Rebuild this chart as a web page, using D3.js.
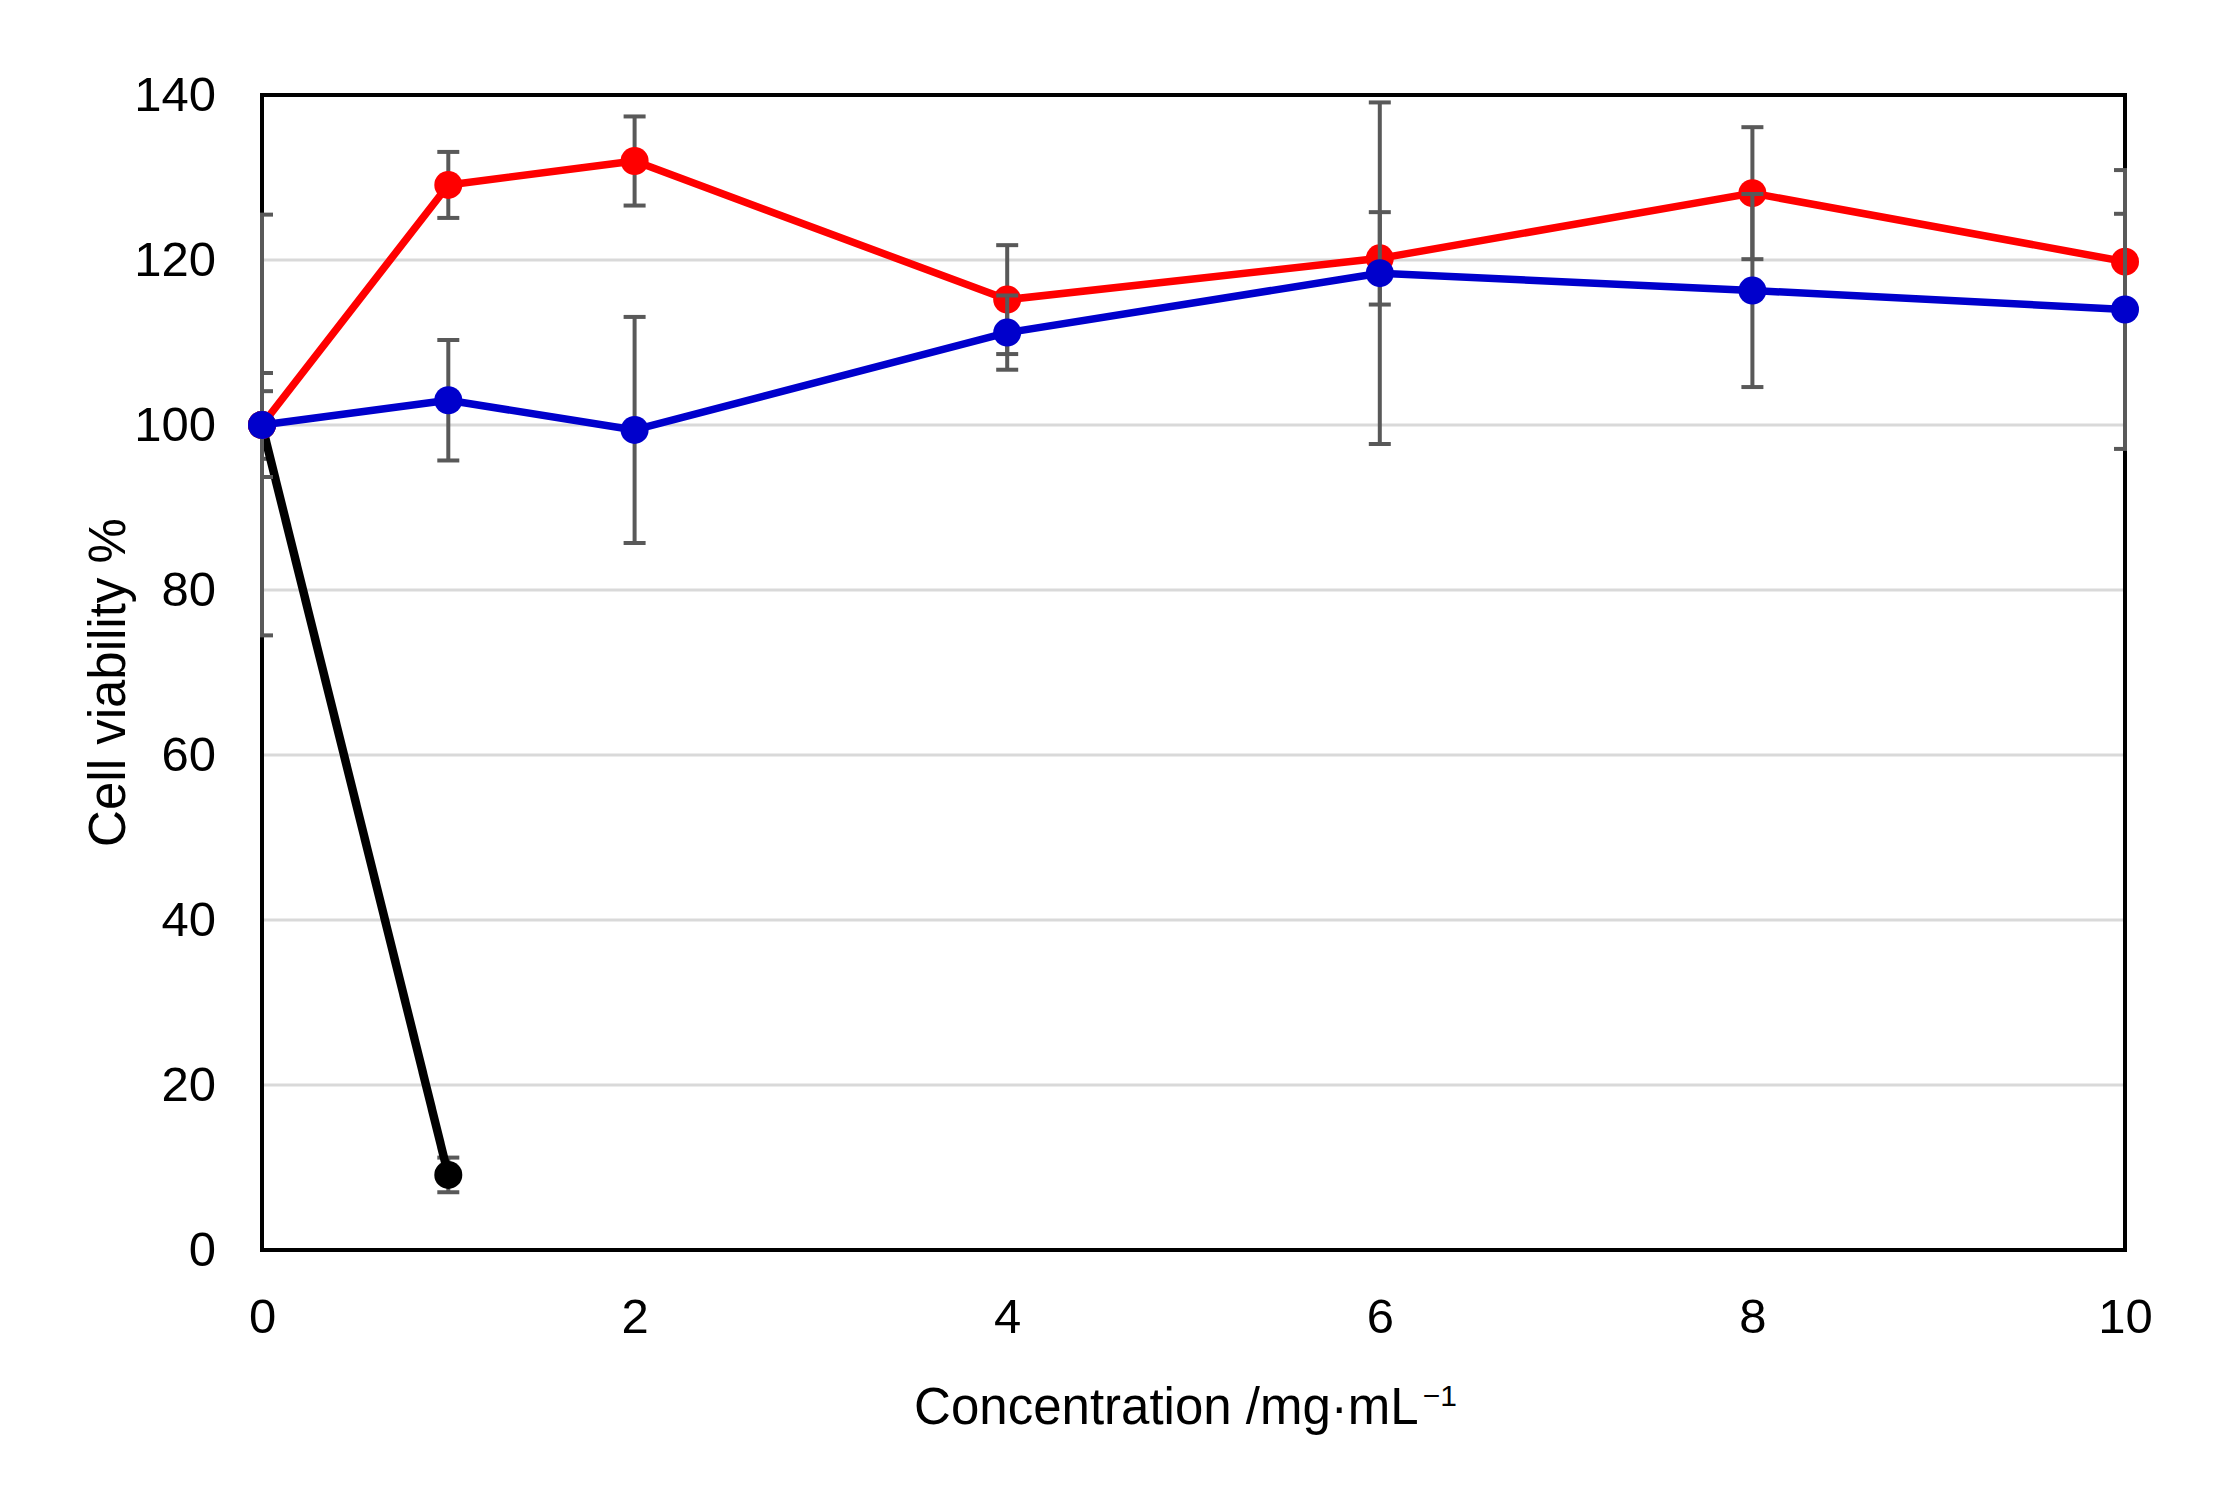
<!DOCTYPE html>
<html>
<head>
<meta charset="utf-8">
<script src="https://cdn.jsdelivr.net/npm/d3@7"></script>
<style>
  body { margin: 0; background: #fff; }
  text { font-family: "Liberation Sans", Arial, sans-serif; }
</style>
</head>
<body>
<div id="chart"></div>
<script>
// concentration (mg/mL) and cell viability (%) with error bars
const concentrations = [0, 1, 2, 4, 6, 8, 10];
const redValues  = [100, 129.1, 132.0, 115.2, 120.2, 128.1, 119.8];
const redErrors  = [25.5, 4.0, 5.4, 6.6, 5.6, 8.0, 5.8];
const blueValues = [100, 103.0, 99.4, 111.2, 118.4, 116.3, 114.0];
const blueErrors = [6.3, 7.3, 13.7, 4.5, 20.7, 11.7, 16.9];
const blackConc   = [0, 1];
const blackValues = [100, 9.1];
const blackErrors = [4.1, 2.1];

const xTicks = [0, 2, 4, 6, 8, 10];
const yTicks = [0, 20, 40, 60, 80, 100, 120, 140];

const W = 2228, H = 1490;
const margin = {top: 95, right: 103, bottom: 240, left: 262};
const width = W - margin.left - margin.right;
const height = H - margin.top - margin.bottom;

const svg = d3.select("#chart").append("svg")
    .attr("width", W)
    .attr("height", H);

const g = svg.append("g")
    .attr("transform", "translate(" + margin.left + "," + margin.top + ")");

const x = d3.scaleLinear().domain([0, 10]).range([0, width]);
const y = d3.scaleLinear().domain([0, 140]).range([height, 0]);

// gridlines
g.append("g")
    .selectAll("line")
    .data(yTicks.filter(d => d > 0 && d < 140))
    .enter().append("line")
    .attr("x1", 0).attr("x2", width)
    .attr("y1", d => y(d)).attr("y2", d => y(d))
    .attr("stroke", "#d9d9d9")
    .attr("stroke-width", 3);

// frame
g.append("rect")
    .attr("width", width)
    .attr("height", height)
    .attr("fill", "none")
    .attr("stroke", "#000")
    .attr("stroke-width", 4);

// axes (labels only)
const xAxis = d3.axisBottom(x).tickValues(xTicks).tickSize(0).tickPadding(48);
const yAxis = d3.axisLeft(y).tickValues(yTicks).tickSize(0).tickPadding(46);

g.append("g")
    .attr("class", "x-axis")
    .attr("transform", "translate(0," + height + ")")
    .call(xAxis);

g.append("g")
    .attr("class", "y-axis")
    .call(yAxis);

g.selectAll(".x-axis path, .y-axis path").remove();
g.selectAll(".x-axis text, .y-axis text")
    .style("font-size", "49px")
    .style("font-family", "'Liberation Sans', Arial, sans-serif")
    .attr("fill", "#000");

// axis titles
const xTitle = g.append("text")
    .attr("x", width / 2 - 8)
    .attr("y", height + 174)
    .attr("text-anchor", "middle")
    .style("font-size", "51px");
xTitle.append("tspan").text("Concentration /mg\u00b7mL");
xTitle.append("tspan").text("\u22121")
    .style("font-size", "30px")
    .attr("dx", 4)
    .attr("dy", -18);

g.append("text")
    .attr("transform", "translate(" + (-137) + "," + (height / 2 + 10) + ") rotate(-90)")
    .attr("text-anchor", "middle")
    .style("font-size", "51px")
    .text("Cell viability %");

// clip for error bars
g.append("clipPath").attr("id", "plotClip")
    .append("rect")
    .attr("x", -2).attr("y", -2)
    .attr("width", width + 4).attr("height", height + 4);

const series = [
    {name: "black", color: "#000000", xs: blackConc, vals: blackValues, errs: blackErrors},
    {name: "red", color: "#ff0000", xs: concentrations, vals: redValues, errs: redErrors},
    {name: "blue", color: "#0000cc", xs: concentrations, vals: blueValues, errs: blueErrors}
];

const line = d3.line().x(d => x(d.x)).y(d => y(d.v));

series.forEach(function(s) {
    const pts = s.xs.map((xv, i) => ({x: xv, v: s.vals[i], e: s.errs[i]}));
    const sg = g.append("g").attr("class", "series-" + s.name);

    const eb = sg.append("g").attr("clip-path", "url(#plotClip)")
        .selectAll("g").data(pts).enter().append("g");
    eb.append("line")
        .attr("x1", d => x(d.x)).attr("x2", d => x(d.x))
        .attr("y1", d => y(d.v + d.e)).attr("y2", d => y(d.v - d.e))
        .attr("stroke", "#595959").attr("stroke-width", 4);
    eb.selectAll(".cap")
        .data(d => [{x: d.x, v: d.v + d.e}, {x: d.x, v: d.v - d.e}])
        .enter().append("line")
        .attr("class", "cap")
        .attr("x1", d => x(d.x) - 11).attr("x2", d => x(d.x) + 11)
        .attr("y1", d => y(d.v)).attr("y2", d => y(d.v))
        .attr("stroke", "#595959").attr("stroke-width", 4);

    sg.append("path")
        .datum(pts)
        .attr("d", line)
        .attr("fill", "none")
        .attr("stroke", s.color)
        .attr("stroke-width", s.name === "black" ? 8.5 : 7.5)
        .attr("stroke-linejoin", "round");

    sg.selectAll("circle").data(pts).enter().append("circle")
        .attr("cx", d => x(d.x))
        .attr("cy", d => y(d.v))
        .attr("r", 14)
        .attr("fill", s.color);
});
</script>
</body>
</html>
